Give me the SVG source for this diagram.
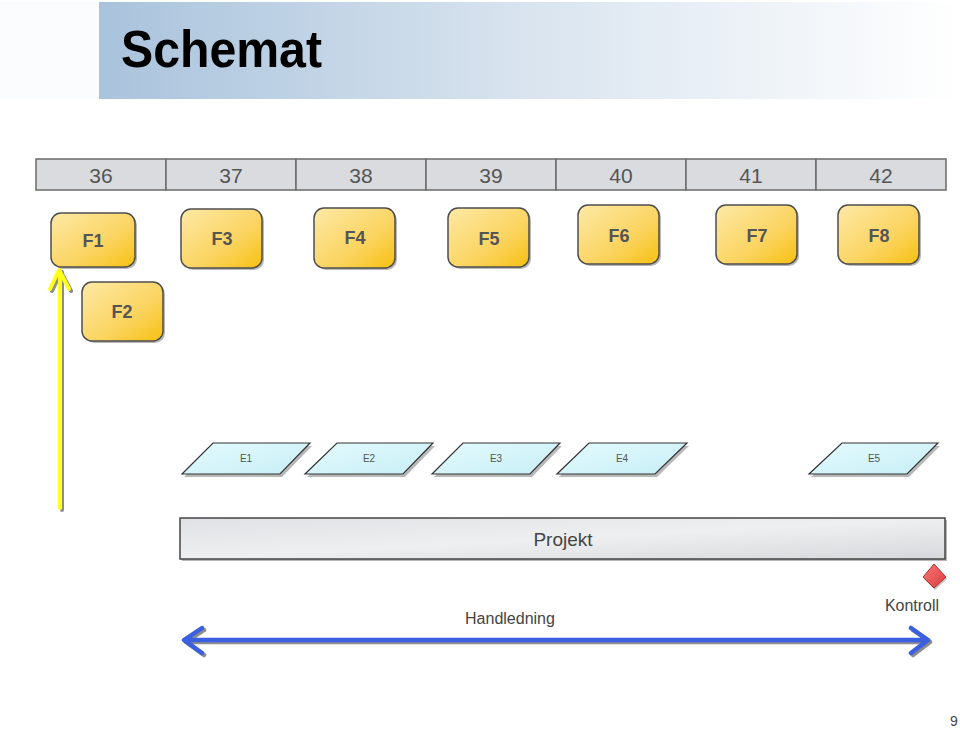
<svg xmlns="http://www.w3.org/2000/svg" width="960" height="730" viewBox="0 0 960 730">
<defs>
<linearGradient id="gTitle" x1="0" y1="0" x2="1" y2="0">
<stop offset="0" stop-color="#a9c3dc"/><stop offset="0.5" stop-color="#d9e4ef"/><stop offset="1" stop-color="#ffffff"/>
</linearGradient>
<linearGradient id="gF" x1="0" y1="0" x2="1" y2="1">
<stop offset="0" stop-color="#fde9a6"/><stop offset="0.6" stop-color="#fbd460"/><stop offset="1" stop-color="#f7c011"/>
</linearGradient>
<linearGradient id="gE" x1="0" y1="0" x2="1" y2="1">
<stop offset="0" stop-color="#e4fbfd"/><stop offset="1" stop-color="#c6eef6"/>
</linearGradient>
<linearGradient id="gP" x1="0" y1="0" x2="1" y2="1">
<stop offset="0" stop-color="#dfe1e4"/><stop offset="0.5" stop-color="#eeeff0"/><stop offset="1" stop-color="#d6d8db"/>
</linearGradient>
<linearGradient id="gD" x1="0" y1="0" x2="1" y2="1">
<stop offset="0" stop-color="#f47a7a"/><stop offset="1" stop-color="#e03a3a"/>
</linearGradient>
<style>
.cell{fill:#d9dbdf;stroke:#6b6b6b;stroke-width:1.5}
.wk{font-family:"Liberation Sans",Arial,sans-serif;font-size:21px;fill:#555;text-anchor:middle}
.fbox{fill:url(#gF);stroke:#4d4d4d;stroke-width:1.5}
.fsh{fill:#9a9a9a;opacity:0.7}
.fl{font-family:"Liberation Sans",Arial,sans-serif;font-size:18px;font-weight:bold;fill:#555;text-anchor:middle}
.ebox{fill:url(#gE);stroke:#333;stroke-width:1.2}
.esh{fill:#9a9a9a;opacity:0.7}
.el{font-family:"Liberation Sans",Arial,sans-serif;font-size:10px;fill:#555;text-anchor:middle}
.lbl{font-family:"Liberation Sans",Arial,sans-serif;font-size:16px;fill:#444;text-anchor:middle}
</style>
</defs>
<rect x="0" y="0" width="960" height="730" fill="#ffffff"/>
<rect x="0" y="2" width="99" height="97" fill="#fbfcfd"/>
<g id="title">
<rect x="99" y="2" width="861" height="97" fill="url(#gTitle)"/>
<text x="121" y="67" font-family="'Liberation Sans',Arial,sans-serif" font-size="52" font-weight="bold" fill="#000" textLength="201" lengthAdjust="spacingAndGlyphs">Schemat</text>
</g>
<g id="weeks">
<rect class="cell" x="36" y="159" width="130" height="31"/>
<rect class="cell" x="166" y="159" width="130" height="31"/>
<rect class="cell" x="296" y="159" width="130" height="31"/>
<rect class="cell" x="426" y="159" width="130" height="31"/>
<rect class="cell" x="556" y="159" width="130" height="31"/>
<rect class="cell" x="686" y="159" width="130" height="31"/>
<rect class="cell" x="816" y="159" width="130" height="31"/>
<text class="wk" x="101" y="183">36</text>
<text class="wk" x="231" y="183">37</text>
<text class="wk" x="361" y="183">38</text>
<text class="wk" x="491" y="183">39</text>
<text class="wk" x="621" y="183">40</text>
<text class="wk" x="751" y="183">41</text>
<text class="wk" x="881" y="183">42</text>
</g>
<g id="connectors">
<g id="yellow-arrow" fill="none" stroke-linecap="round" stroke-linejoin="round">
<path d="M62,510 V272 M52,291 L61,272 L71,291" stroke="#8c8c8c" stroke-width="4"/>
<path d="M60,508 V270 M50,289 L59,270 L69,289" stroke="#ffff1a" stroke-width="4"/>
</g>
<g id="blue-arrow" fill="none" stroke-linecap="round" stroke-linejoin="round">
<path d="M187,642 H930 M204,630 L186,642 L204,655 M913,630 L930,642 L913,655" stroke="#8c8c8c" stroke-width="4.5"/>
<path d="M185,640 H928 M202,628 L184,640 L202,653 M911,628 L928,640 L911,653" stroke="#3a5fe0" stroke-width="4.5"/>
</g>
</g>
<g id="F1"><rect class="fsh" x="53" y="215" width="84" height="54" rx="10"/><rect class="fbox" x="51" y="213" width="84" height="54" rx="10"/><text class="fl" x="93" y="247">F1</text></g>
<g id="F3"><rect class="fsh" x="183" y="211" width="81" height="59" rx="10"/><rect class="fbox" x="181" y="209" width="81" height="59" rx="10"/><text class="fl" x="222" y="245">F3</text></g>
<g id="F4"><rect class="fsh" x="316" y="210" width="81" height="60" rx="10"/><rect class="fbox" x="314" y="208" width="81" height="60" rx="10"/><text class="fl" x="355" y="244">F4</text></g>
<g id="F5"><rect class="fsh" x="450" y="210" width="81" height="59" rx="10"/><rect class="fbox" x="448" y="208" width="81" height="59" rx="10"/><text class="fl" x="489" y="245">F5</text></g>
<g id="F6"><rect class="fsh" x="580" y="207" width="81" height="59" rx="10"/><rect class="fbox" x="578" y="205" width="81" height="59" rx="10"/><text class="fl" x="619" y="242">F6</text></g>
<g id="F7"><rect class="fsh" x="718" y="207" width="81" height="59" rx="10"/><rect class="fbox" x="716" y="205" width="81" height="59" rx="10"/><text class="fl" x="757" y="242">F7</text></g>
<g id="F8"><rect class="fsh" x="840" y="207" width="81" height="59" rx="10"/><rect class="fbox" x="838" y="205" width="81" height="59" rx="10"/><text class="fl" x="879" y="242">F8</text></g>
<g id="F2"><rect class="fsh" x="84" y="284" width="81" height="59" rx="10"/><rect class="fbox" x="82" y="282" width="81" height="59" rx="10"/><text class="fl" x="122" y="318">F2</text></g>
<g id="E1"><polygon class="esh" points="215,446 312,446 282,477 184,477"/><polygon class="ebox" points="213,443 310,443 280,474 182,474"/><text class="el" x="246" y="462">E1</text></g>
<g id="E2"><polygon class="esh" points="339,446 435,446 405,477 307,477"/><polygon class="ebox" points="337,443 433,443 403,474 305,474"/><text class="el" x="369" y="462">E2</text></g>
<g id="E3"><polygon class="esh" points="465,446 562,446 532,477 434,477"/><polygon class="ebox" points="463,443 560,443 530,474 432,474"/><text class="el" x="496" y="462">E3</text></g>
<g id="E4"><polygon class="esh" points="591,446 689,446 657,477 559,477"/><polygon class="ebox" points="589,443 687,443 655,474 557,474"/><text class="el" x="622" y="462">E4</text></g>
<g id="E5"><polygon class="esh" points="844,446 940,446 909,477 811,477"/><polygon class="ebox" points="842,443 938,443 907,474 809,474"/><text class="el" x="874" y="462">E5</text></g>
<g id="Projekt">
<rect x="182" y="520" width="765" height="41" fill="#9a9a9a" opacity="0.7"/>
<rect x="180" y="518" width="765" height="41" fill="url(#gP)" stroke="#444" stroke-width="1.5"/>
<text x="563" y="546" font-family="'Liberation Sans',Arial,sans-serif" font-size="19" fill="#444" text-anchor="middle">Projekt</text>
</g>
<g id="Kontroll">
<polygon points="935,566 947,579 935,590 924,579" fill="#9a9a9a" opacity="0.6"/>
<polygon points="934,564 946,577 934,588 923,577" fill="url(#gD)" stroke="#a83030" stroke-width="1"/>
<text class="lbl" x="912" y="611">Kontroll</text>
</g>
<g id="Handledning">
<text class="lbl" x="510" y="624">Handledning</text>
</g>
<text x="954" y="726" font-family="'Liberation Sans',Arial,sans-serif" font-size="14" fill="#444" text-anchor="middle">9</text>
</svg>
